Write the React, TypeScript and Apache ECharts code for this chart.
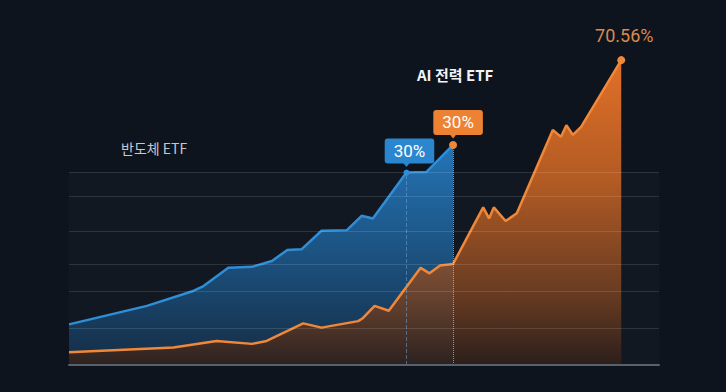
import React, { useEffect, useRef } from "react";
import * as echarts from "echarts";

// Semiconductor ETF (blue) – x positions (time index) and cumulative values
const blueX = [0, 13.2, 20.8, 22.8, 27.0, 31.0, 34.4, 37.0, 39.4, 42.8, 47.1, 49.6, 51.5, 57.2, 60.6, 65.1];
const blueY = [12.5, 18.2, 22.6, 24.3, 29.9, 30.2, 32.0, 35.4, 35.6, 41.3, 41.5, 45.9, 45.1, 59.2, 59.4, 67.7];

// AI power ETF (orange)
const orangeX = [0, 17.7, 25.0, 31.0, 33.5, 39.7, 42.8, 49.0, 49.8, 51.8, 54.2, 59.6, 61.1, 62.9, 65.1, 70.2, 71.2, 72.0, 74.0, 75.9, 82.0, 83.4, 84.3, 85.4, 86.8, 93.6];
const orangeY = [3.9, 5.4, 7.4, 6.5, 7.4, 12.8, 11.5, 13.5, 14.4, 18.2, 16.7, 29.9, 28.2, 30.6, 31.1, 48.5, 45.1, 48.5, 44.3, 46.7, 72.3, 70.2, 73.8, 70.8, 73.3, 93.8];

// horizontal guide lines
const gridValues = [11.4, 22.8, 31.1, 41.2, 52.0, 59.4];

const blueName = "반도체 ETF";
const orangeName = "AI 전력 ETF";
const blueTag = "30%";
const orangeTag = "30%";
const peakTag = "70.56%";

const blueTagIndex = 13;

export default function App() {
  const ref = useRef<HTMLDivElement>(null);
  useEffect(() => {
    document.body.style.margin = "0";
    const chart = echarts.init(ref.current!, null, { renderer: "svg" });
    const blueData = blueX.map((x, i) => [x, blueY[i]]);
    const orangeData = orangeX.map((x, i) => [x, orangeY[i]]);
    const bLast = blueData.length - 1;
    const oLast = orangeData.length - 1;
    const bt = blueData[blueTagIndex];
    const ot = blueData[bLast];
    const op = orangeData[oLast];

    chart.setOption({
      animation: false,
      backgroundColor: "#0e141d",
      grid: { left: 69, right: 67, top: 40, bottom: 27 },
      xAxis: {
        type: "value",
        min: 0,
        max: 100,
        z: 10,
        axisLine: { show: true, lineStyle: { color: "#59616d", width: 2 } },
        axisTick: { show: false },
        axisLabel: { show: false },
        splitLine: { show: false },
      },
      yAxis: {
        type: "value",
        min: 0,
        max: 100,
        axisLine: { show: false },
        axisTick: { show: false },
        axisLabel: { show: false },
        splitLine: { show: false },
      },
      graphic: [
        {
          type: "text",
          left: 121,
          top: 141,
          style: {
            text: blueName,
            fill: "#c4c9d0",
            fontSize: 14,
            fontFamily: "Noto Sans CJK KR",
          },
        },
        {
          type: "text",
          left: 417,
          top: 67,
          style: {
            text: orangeName,
            fill: "#f2f3f5",
            fontSize: 15,
            fontWeight: "bold",
            fontFamily: "Noto Sans CJK KR",
          },
        },
      ],
      series: [
        {
          name: blueName,
          type: "line",
          data: blueData,
          symbol: "none",
          z: 2,
          lineStyle: { color: "#2f8ed6", width: 2.5 },
          areaStyle: {
            opacity: 1,
            color: new echarts.graphic.LinearGradient(0, 0, 0, 1, [
              { offset: 0, color: "rgba(38,122,192,0.95)" },
              { offset: 0.55, color: "rgba(28,88,138,0.85)" },
              { offset: 1, color: "rgba(22,52,82,0.75)" },
            ]),
          },
          markArea: {
            silent: true,
            itemStyle: { color: "rgba(255,255,255,0.018)" },
            data: [[{ coord: [0, 0] }, { coord: [100, gridValues[gridValues.length - 1]] }]],
          },
          markLine: {
            silent: true,
            symbol: "none",
            label: { show: false },
            lineStyle: { color: "rgba(110,160,210,0.55)", type: "dashed", width: 1 },
            data: [[{ coord: [bt[0], 0] }, { coord: [bt[0], bt[1]] }]],
          },
          markPoint: {
            silent: true,
            data: [
              {
                coord: bt,
                symbol: "triangle",
                symbolRotate: 180,
                symbolSize: [8, 5],
                symbolOffset: [0, -8],
                itemStyle: { color: "#2a86cf" },
                label: { show: false },
              },
              {
                coord: bt,
                symbol: "circle",
                symbolSize: 6,
                itemStyle: { color: "#2f8ed6" },
                label: {
                  show: true,
                  position: "top",
                  distance: 6,
                  offset: [3, 0],
                  formatter: blueTag,
                  backgroundColor: "#2a86cf",
                  borderRadius: 3,
                  padding: [4, 9],
                  color: "#ffffff",
                  fontSize: 17,
                  fontFamily: "Roboto",
                },
              },
            ],
          },
        },
        {
          name: orangeName,
          type: "line",
          data: orangeData,
          symbol: "none",
          z: 3,
          lineStyle: { color: "#f0883a", width: 2.5 },
          areaStyle: {
            opacity: 1,
            color: new echarts.graphic.LinearGradient(0, 0, 0, 1, [
              { offset: 0, color: "rgba(226,112,40,1)" },
              { offset: 0.4, color: "rgba(200,100,36,0.88)" },
              { offset: 0.75, color: "rgba(130,70,34,0.8)" },
              { offset: 1, color: "rgba(48,32,26,0.85)" },
            ]),
          },
          markLine: {
            silent: true,
            symbol: "none",
            label: { show: false },
            lineStyle: { color: "rgba(255,255,255,0.12)", type: "solid", width: 1 },
            data: [
              ...gridValues.map((v) => ({ yAxis: v })),
              [
                { coord: [ot[0], 0], lineStyle: { color: "rgba(255,255,255,0.5)", type: "dotted", width: 1 } },
                { coord: [ot[0], ot[1]] },
              ],
            ],
          },
          markPoint: {
            silent: true,
            data: [
              {
                coord: ot,
                symbol: "triangle",
                symbolRotate: 180,
                symbolSize: [8, 5],
                symbolOffset: [0, -9],
                itemStyle: { color: "#ee8233" },
                label: { show: false },
              },
              {
                coord: ot,
                symbol: "circle",
                symbolSize: 8,
                itemStyle: { color: "#f0883a" },
                label: {
                  show: true,
                  position: "top",
                  distance: 6,
                  offset: [5, 0],
                  formatter: orangeTag,
                  backgroundColor: "#ee8233",
                  borderRadius: 3,
                  padding: [4, 9],
                  color: "#ffffff",
                  fontSize: 17,
                  fontFamily: "Roboto",
                },
              },
              {
                coord: op,
                symbol: "circle",
                symbolSize: 8,
                itemStyle: { color: "#f0883a" },
                label: {
                  show: true,
                  position: "top",
                  distance: 12,
                  offset: [3, 0],
                  formatter: peakTag,
                  color: "#d98a52",
                  fontSize: 18,
                  fontFamily: "Roboto",
                },
              },
            ],
          },
        },
      ],
    });
    return () => chart.dispose();
  }, []);
  return (
    <div
      ref={ref}
      style={{ position: "fixed", left: 0, top: 0, width: 726, height: 392 }}
    />
  );
}
